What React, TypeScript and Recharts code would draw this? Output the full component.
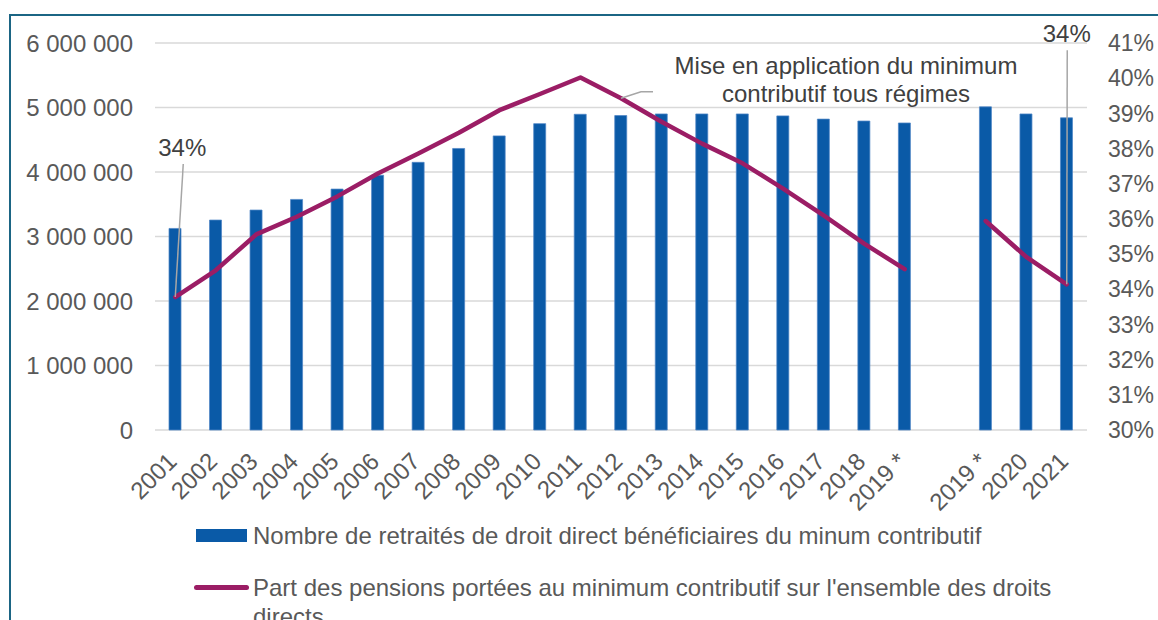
import { ComposedChart, Bar, Line, XAxis, YAxis, CartesianGrid, Legend, LabelList } from 'recharts'

// categories: one empty slot separates the two "2019 *" series breaks
const categories = [
  '2001', '2002', '2003', '2004', '2005', '2006', '2007', '2008', '2009', '2010',
  '2011', '2012', '2013', '2014', '2015', '2016', '2017', '2018', '2019 *',
  '', '2019 *', '2020', '2021',
]

// number of direct-right retirees receiving the minimum contributif
const retraites = [
  3125000, 3255000, 3410000, 3575000, 3735000, 3950000, 4150000, 4365000, 4560000, 4750000,
  4895000, 4875000, 4900000, 4900000, 4900000, 4870000, 4820000, 4790000, 4760000,
  null, 5010000, 4900000, 4840000,
]

// share of pensions raised to the minimum (%)
const part = [
  33.78, 34.54, 35.56, 36.06, 36.64, 37.29, 37.86, 38.45, 39.09, 39.55,
  40.02, 39.43, 38.76, 38.14, 37.58, 36.86, 36.1, 35.3, 34.57,
  null, 35.94, 34.92, 34.14,
]

const leftTicks = [0, 1000000, 2000000, 3000000, 4000000, 5000000, 6000000]
const rightTicks = [30, 31, 32, 33, 34, 35, 36, 37, 38, 39, 40, 41]

const data = categories.map((label, i) => ({
  id: i,
  label,
  retraites: retraites[i],
  part: part[i],
}))

const FONT = 'Arial, "Liberation Sans", sans-serif'
const BLUE = '#0A5AA7'
const PURPLE = '#9B1D65'
const AXIS_TEXT = '#595959'
const LABEL_TEXT = '#404040'

const fmtThousands = (v: number) => v.toString().replace(/\B(?=(\d{3})+(?!\d))/g, ' ')

const XTick = (props: any) => {
  const { x, y, payload } = props
  const px = x - 3
  const py = y + 27
  return (
    <text
      x={px}
      y={py}
      dy="0.35em"
      textAnchor="end"
      transform={`rotate(-45, ${px}, ${py})`}
      fill={AXIS_TEXT}
      fontSize={24}
      fontFamily={FONT}
    >
      {categories[payload.value]}
    </text>
  )
}

// data labels with leader lines (only a few points are annotated)
const renderPartLabel = (props: any) => {
  const { x, y, value, index } = props
  if (value == null) return null
  const leader = { stroke: '#A6A6A6', strokeWidth: 1.5, fill: 'none' }
  if (index === 0) {
    return (
      <g>
        <line x1={x + 8} y1={y - 133} x2={x} y2={y} {...leader} />
        <text x={x + 7} y={y - 149} dy="0.35em" textAnchor="middle" fill={LABEL_TEXT} fontSize={24} fontFamily={FONT}>
          {Math.round(value)}%
        </text>
      </g>
    )
  }
  if (index === categories.length - 1) {
    return (
      <g>
        <line x1={x + 0.5} y1={y - 234} x2={x} y2={y} {...leader} />
        <text x={x} y={y - 251} dy="0.35em" textAnchor="middle" fill={LABEL_TEXT} fontSize={24} fontFamily={FONT}>
          {Math.round(value)}%
        </text>
      </g>
    )
  }
  if (index === 11) {
    return (
      <g>
        <polyline points={`${x},${y} ${x + 20},${y - 6.5} ${x + 32},${y - 6.5}`} {...leader} />
        <text textAnchor="middle" fill={LABEL_TEXT} fontSize={24} fontFamily={FONT}>
          <tspan x={x + 225} y={y - 33} dy="0.35em">Mise en application du minimum</tspan>
          <tspan x={x + 225} y={y - 5} dy="0.35em">contributif tous régimes</tspan>
        </text>
      </g>
    )
  }
  return null
}

const renderLegend = (props: any) => {
  const { payload } = props
  return (
    <div style={{ position: 'relative', width: 0, height: 0 }}>
      {payload.map((entry: any, index: number) => {
        const isLine = entry.type === 'line'
        const top = index === 0 ? 521 : 573
        return (
          <div
            key={`legend-${index}`}
            style={{
              position: 'absolute',
              left: 194,
              top,
              width: 880,
              display: 'flex',
              alignItems: 'flex-start',
              fontFamily: FONT,
              fontSize: 24,
              lineHeight: '29px',
              color: AXIS_TEXT,
            }}
          >
            <span
              style={{
                flex: 'none',
                marginTop: isLine ? 12 : 8,
                marginLeft: isLine ? 0 : 2,
                marginRight: isLine ? 4 : 6,
                width: isLine ? 55 : 51,
                height: isLine ? 5 : 13,
                borderRadius: isLine ? 3 : 0,
                backgroundColor: entry.color,
              }}
            />
            <span style={{ width: 810 }}>{entry.value}</span>
          </div>
        )
      })}
    </div>
  )
}

export default function App() {
  return (
    <div style={{ position: 'absolute', left: 0, top: 0, width: 1158, height: 620, background: '#fff', overflow: 'hidden' }}>
      <div
        style={{
          position: 'absolute',
          left: 9,
          top: 14,
          right: 0,
          bottom: 0,
          borderTop: '2px solid #1B6584',
          borderLeft: '2px solid #1B6584',
        }}
      />
      <ComposedChart
        width={1158}
        height={620}
        data={data}
        margin={{ top: 43, right: 0, bottom: 110, left: 0 }}
        barCategoryGap={0}
      >
        <CartesianGrid yAxisId="left" vertical={false} stroke="#D9D9D9" strokeWidth={1.5} />
        <XAxis
          dataKey="id"
          type="category"
          height={80}
          tickLine={false}
          axisLine={false}
          tickSize={0}
          tickMargin={0}
          interval={0}
          tick={<XTick />}
        />
        <YAxis
          yAxisId="left"
          width={155}
          domain={[0, 6000000]}
          ticks={leftTicks}
          tickFormatter={fmtThousands}
          tickLine={false}
          axisLine={false}
          tickSize={0}
          tickMargin={22}
          tick={{ fill: AXIS_TEXT, fontSize: 24, fontFamily: FONT }}
        />
        <YAxis
          yAxisId="right"
          orientation="right"
          width={71}
          domain={[30, 41]}
          ticks={rightTicks}
          tickFormatter={(v: number) => `${v}%`}
          tickLine={false}
          axisLine={false}
          tickSize={0}
          tickMargin={21}
          tick={{ fill: AXIS_TEXT, fontSize: 23, fontFamily: FONT, textAnchor: 'start' }}
        />
        <Bar
          yAxisId="left"
          dataKey="retraites"
          name="Nombre de retraités de droit direct bénéficiaires du minum contributif"
          fill={BLUE}
          stroke="#4F86C6"
          strokeWidth={0.75}
          barSize={12}
          isAnimationActive={false}
          legendType="rect"
        />
        <Line
          yAxisId="right"
          dataKey="part"
          name="Part des pensions portées au minimum contributif sur l'ensemble des droits directs"
          type="linear"
          stroke={PURPLE}
          strokeWidth={4.5}
          strokeLinecap="round"
          strokeLinejoin="round"
          dot={false}
          activeDot={false}
          connectNulls={false}
          isAnimationActive={false}
          legendType="line"
        >
          <LabelList dataKey="part" content={renderPartLabel} />
        </Line>
        <Legend
          content={renderLegend}
          wrapperStyle={{ position: 'absolute', left: 0, top: 0, width: 0, height: 0 }}
        />
      </ComposedChart>
    </div>
  )
}
